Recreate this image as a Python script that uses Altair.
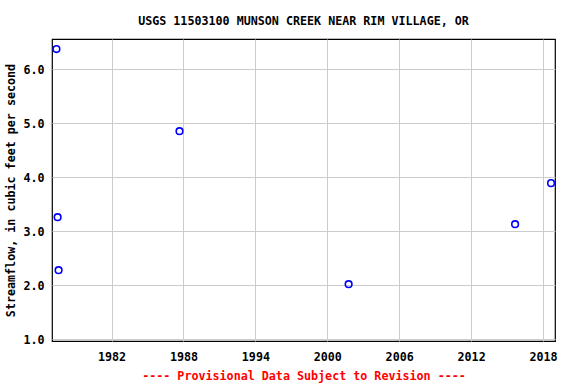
import altair as alt
import pandas as pd

years = [1977.4, 1977.5, 1977.58, 1987.67, 2001.78, 2015.67, 2018.67]
flows = [6.37, 3.26, 2.28, 4.85, 2.02, 3.13, 3.89]
x_ticks = [1982, 1988, 1994, 2000, 2006, 2012, 2018]
y_ticks = [1.0, 2.0, 3.0, 4.0, 5.0, 6.0]

df = pd.DataFrame({"year": years, "flow": flows})

FONT = "DejaVu Sans Mono"
FS = 11.7

chart = alt.Chart(df).mark_point(
    shape="circle", filled=False, color="#0000ff", size=44, strokeWidth=1.6, opacity=1
).encode(
    x=alt.X("year:Q",
            scale=alt.Scale(domain=[1977.03, 2019.0], nice=False, zero=False),
            axis=alt.Axis(values=x_ticks, format="d", ticks=False, labelPadding=10,
                          title="---- Provisional Data Subject to Revision ----",
                          titleColor="#ff0000", titlePadding=8, labelFlush=False)),
    y=alt.Y("flow:Q",
            scale=alt.Scale(domain=[0.97, 6.556], nice=False, zero=False),
            axis=alt.Axis(values=y_ticks, format=".1f", ticks=False, labelPadding=8,
                          title="Streamflow, in cubic feet per second", titlePadding=6)),
).properties(
    width=503, height=302,
    title=alt.TitleParams("USGS 11503100 MUNSON CREEK NEAR RIM VILLAGE, OR",
                          font=FONT, fontSize=FS, fontWeight="bold", anchor="middle",
                          offset=11, color="black"),
    autosize="none",
    padding={"left": 52, "top": 39, "right": 21, "bottom": 43},
).configure_axis(
    labelFont=FONT, labelFontSize=FS, labelFontWeight="bold", labelColor="black",
    titleFont=FONT, titleFontSize=FS, titleFontWeight="bold",
    gridColor="#cccccc", gridWidth=1, domain=False, grid=True,
).configure_view(
    stroke="black", strokeWidth=1.2
)

chart.save("out.html", embed_options={"renderer": "svg", "actions": False})
